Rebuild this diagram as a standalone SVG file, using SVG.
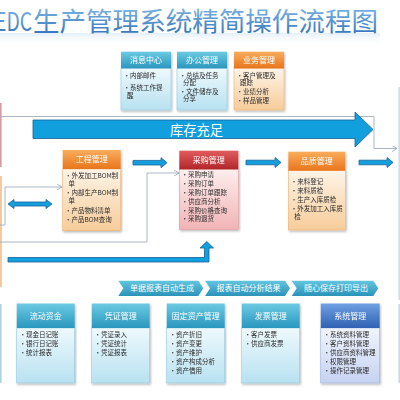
<svg xmlns="http://www.w3.org/2000/svg" width="400" height="400" viewBox="0 0 400 400">
<defs>
<linearGradient id="gTitle" x1="0" y1="0" x2="0" y2="1"><stop offset="0" stop-color="#8cc2ee"/><stop offset="1" stop-color="#2b6db5"/></linearGradient>
<linearGradient id="gTealH" x1="0" y1="0" x2="0" y2="1"><stop offset="0" stop-color="#6ccae3"/><stop offset="1" stop-color="#2a97be"/></linearGradient>
<linearGradient id="gTealB" x1="0" y1="0" x2="0" y2="1"><stop offset="0" stop-color="#eef9fd"/><stop offset="1" stop-color="#b8e1f1"/></linearGradient>
<linearGradient id="gOrH" x1="0" y1="0" x2="0" y2="1"><stop offset="0" stop-color="#f9ad5c"/><stop offset="1" stop-color="#e8751c"/></linearGradient>
<linearGradient id="gOrB" x1="0" y1="0" x2="0" y2="1"><stop offset="0" stop-color="#fef4e6"/><stop offset="1" stop-color="#f7cc9a"/></linearGradient>
<linearGradient id="gRedH" x1="0" y1="0" x2="0" y2="1"><stop offset="0" stop-color="#e15c5e"/><stop offset="1" stop-color="#b1262a"/></linearGradient>
<linearGradient id="gRedB" x1="0" y1="0" x2="0" y2="1"><stop offset="0" stop-color="#fdeeee"/><stop offset="1" stop-color="#f2b4b6"/></linearGradient>
<linearGradient id="gSysH" x1="0" y1="0" x2="0" y2="1"><stop offset="0" stop-color="#6fa0e2"/><stop offset="1" stop-color="#2f61b2"/></linearGradient>
<linearGradient id="gSysB" x1="0" y1="0" x2="0" y2="1"><stop offset="0" stop-color="#f0f4fd"/><stop offset="1" stop-color="#c5d2f1"/></linearGradient>
<linearGradient id="gTag" x1="0" y1="0" x2="0" y2="1"><stop offset="0" stop-color="#62c6e0"/><stop offset="1" stop-color="#2a93b9"/></linearGradient>
<linearGradient id="gGlow" x1="0" y1="0" x2="0" y2="1"><stop offset="0" stop-color="#dcebf8" stop-opacity="0.8"/><stop offset="1" stop-color="#ffffff" stop-opacity="0"/></linearGradient>
<filter id="sh" x="-10%" y="-10%" width="130%" height="130%"><feDropShadow dx="1" dy="1.5" stdDeviation="1" flood-color="#000" flood-opacity="0.28"/></filter>
<marker id="ah" markerWidth="6" markerHeight="6" refX="5" refY="3" orient="auto" markerUnits="userSpaceOnUse"><path d="M0,0 L5,3 L0,6" fill="none" stroke="#9aa4b8" stroke-width="0.8"/></marker>
</defs>
<style>
text{font-family:"Noto Sans CJK SC","Noto Sans",sans-serif}
.hd{font-size:8px;fill:#fff;text-anchor:middle}
.it{font-size:6.5px;fill:#2a2a2a}
.tg{font-size:8px;fill:#fff;text-anchor:middle}
.conn{fill:none;stroke:#a3acc0;stroke-width:0.9}
.blue{fill:#129fde;stroke:#1a5f96;stroke-width:0.8}
.bT{fill:url(#gTealB);stroke:#93c9dc;stroke-width:0.6}
.bO{fill:url(#gOrB);stroke:#efb27a;stroke-width:0.6}
.bR{fill:url(#gRedB);stroke:#e29a9c;stroke-width:0.6}
.bS{fill:url(#gSysB);stroke:#9fb3e0;stroke-width:0.6}
</style>
<rect width="400" height="400" fill="#fff"/>

<!-- title -->
<g id="title">
<rect x="0" y="33" width="380" height="12" fill="url(#gGlow)"/>
<text x="-5" y="31" font-family="Liberation Serif,serif" font-size="26" textLength="37" lengthAdjust="spacingAndGlyphs" fill="url(#gTitle)">EDC</text>
<text x="33" y="31" font-size="26" textLength="345" lengthAdjust="spacingAndGlyphs" fill="url(#gTitle)">生产管理系统精简操作流程图</text>
</g>

<!-- edge slivers of cut-off boxes -->
<g id="edges">
<rect x="0" y="103" width="1.6" height="64" fill="#d49aa2"/>
<rect x="0" y="176" width="2" height="111" fill="#f5c99c"/>
<rect x="0" y="304" width="1.6" height="79" fill="#a9d3e3"/>
<rect x="398.4" y="87" width="1.6" height="213" fill="#d3dae8"/>
<rect x="398.4" y="304" width="1.6" height="79" fill="#c9d8ec"/>
</g>

<!-- connectors -->
<g id="connectors">
<polyline class="conn" points="0,116.5 374,116.5 374,148.5 397,148.5" marker-end="url(#ah)"/>
<polyline class="conn" points="0,225 5,225 5,187 62,187" marker-end="url(#ah)"/>
<polyline class="conn" points="0,242 147,242 147,173 179,173" marker-end="url(#ah)"/>
<polygon class="blue" points="33,120 355,120 355,112 373,129.5 355,147 355,138.5 33,138.5"/>
<text x="196.5" y="134.8" font-size="13.3" fill="#fff" text-anchor="middle">库存充足</text>
<polygon class="blue" points="133,160.4 161,160.4 161,157.7 167,162.7 161,167.7 161,165 133,165"/>
<polygon class="blue" points="246,160.2 275,160.2 275,157.5 281,162.5 275,167.5 275,164.8 246,164.8"/>
<polygon class="blue" points="359,160.2 387,160.2 387,157.5 393,162.5 387,167.5 387,164.8 359,164.8"/>
<polygon class="blue" points="8,204 14,199.5 14,202 46,202 46,199.5 52,204 46,208.5 46,206 14,206 14,208.5"/>
<polygon class="blue" points="8,257.5 204.5,257.5 204.5,248 200,248 206.75,241.5 213.5,248 209,248 209,262 8,262"/>
</g>

<!-- top row -->
<g id="n-xiaoxi" filter="url(#sh)">
<rect x="121" y="68.3" width="50" height="41.7" class="bT"/>
<rect x="121" y="51.7" width="50" height="16.6" fill="url(#gTealH)"/>
<text class="hd" x="146" y="62.8">消息中心</text>
<text class="it" x="123.5" y="77.8">•内部邮件</text>
<text class="it" x="123.5" y="90">•系统工作提<tspan x="127" y="97.8">醒</tspan></text>
</g>
<g id="n-bangong" filter="url(#sh)">
<rect x="177" y="68.3" width="50" height="41.7" class="bT"/>
<rect x="177" y="51.7" width="50" height="16.6" fill="url(#gTealH)"/>
<text class="hd" x="202" y="62.8">办公管理</text>
<text class="it" x="179.5" y="77.5">•总结及任务<tspan x="183" y="85.3">分配</tspan></text>
<text class="it" x="179.5" y="93.6">•文件储存及<tspan x="183" y="101.4">分享</tspan></text>
</g>
<g id="n-yewu" filter="url(#sh)">
<rect x="234" y="68.3" width="50" height="41.7" class="bO"/>
<rect x="234" y="51.7" width="50" height="16.6" fill="url(#gOrH)"/>
<text class="hd" x="259" y="62.8">业务管理</text>
<text class="it" x="236.5" y="77.5">•客户管理及<tspan x="240" y="85.3">跟踪</tspan></text>
<text class="it" x="236.5" y="94.2">•业绩分析<tspan x="236.5" y="102.8">•样品管理</tspan></text>
</g>

<!-- middle row -->
<g id="n-gongcheng" filter="url(#sh)">
<rect x="62.7" y="169" width="58" height="61.7" class="bO"/>
<rect x="62.7" y="150" width="58" height="19" fill="url(#gOrH)"/>
<text class="hd" x="91.7" y="161.8">工程管理</text>
<text class="it" x="65" y="178">•外发加工BOM制<tspan x="68.5" y="185.8">单</tspan></text>
<text class="it" x="65" y="195.2">•内部生产BOM制<tspan x="68.5" y="203">单</tspan></text>
<text class="it" x="65" y="212.8">•产品物料清单<tspan x="65" y="222">•产品BOM查询</tspan></text>
</g>
<g id="n-caigou" filter="url(#sh)">
<rect x="179.3" y="169.3" width="59" height="60" class="bR"/>
<rect x="179.3" y="150.7" width="59" height="18.6" fill="url(#gRedH)"/>
<text class="hd" x="208.8" y="162.8">采购管理</text>
<text class="it" x="181.5" y="177.3">•采购申请<tspan x="181.5" y="186.1">•采购订单</tspan><tspan x="181.5" y="194.9">•采购订单跟踪</tspan><tspan x="181.5" y="203.7">•供应商分析</tspan><tspan x="181.5" y="212.5">•采购价格查询</tspan><tspan x="181.5" y="221.3">•采购退货</tspan></text>
</g>
<g id="n-pinzhi" filter="url(#sh)">
<rect x="288.3" y="170.7" width="57" height="59.3" class="bO"/>
<rect x="288.3" y="151.7" width="57" height="19" fill="url(#gOrH)"/>
<text class="hd" x="316.8" y="163.8">品质管理</text>
<text class="it" x="290.8" y="184.4">•来料登记<tspan x="290.8" y="193.2">•来料质检</tspan><tspan x="290.8" y="202">•生产入库质检</tspan><tspan x="290.8" y="210.9">•外发加工入库质</tspan><tspan x="294.3" y="218.7">检</tspan></text>
</g>

<!-- tags -->
<g id="n-tag1"><polygon points="118.3,280.7 198.3,280.7 203.3,288.35 198.3,296 118.3,296 123.3,288.35" fill="url(#gTag)"/><text class="tg" x="162" y="291.2">单据报表自动生成</text></g>
<g id="n-tag2"><polygon points="205,280.7 285,280.7 290,288.35 285,296 205,296 210,288.35" fill="url(#gTag)"/><text class="tg" x="248.5" y="291.2">报表自动分析结果</text></g>
<g id="n-tag3"><polygon points="291.7,280.7 373.3,280.7 378.3,288.35 373.3,296 291.7,296 296.7,288.35" fill="url(#gTag)"/><text class="tg" x="336" y="291.2">随心保存打印导出</text></g>

<!-- bottom row -->
<g id="n-liudong" filter="url(#sh)">
<rect x="16.7" y="328" width="58" height="55" class="bT"/>
<rect x="16.7" y="303.5" width="58" height="24.5" fill="url(#gTealH)"/>
<text class="hd" x="45.7" y="318.5">流动资金</text>
<text class="it" x="19.5" y="336.6">•现金日记账<tspan x="19.5" y="345.6">•银行日记账</tspan><tspan x="19.5" y="354.6">•统计报表</tspan></text>
</g>
<g id="n-pingzheng" filter="url(#sh)">
<rect x="91.7" y="328" width="58" height="55" class="bT"/>
<rect x="91.7" y="303.5" width="58" height="24.5" fill="url(#gTealH)"/>
<text class="hd" x="120.7" y="318.5">凭证管理</text>
<text class="it" x="94.5" y="336.6">•凭证录入<tspan x="94.5" y="345.6">•凭证统计</tspan><tspan x="94.5" y="354.6">•凭证报表</tspan></text>
</g>
<g id="n-guding" filter="url(#sh)">
<rect x="166.7" y="328" width="58" height="55" class="bT"/>
<rect x="166.7" y="303.5" width="58" height="24.5" fill="url(#gTealH)"/>
<text class="hd" x="195.7" y="318.5">固定资产管理</text>
<text class="it" x="169.5" y="336.6">•资产折旧<tspan x="169.5" y="345.6">•资产变更</tspan><tspan x="169.5" y="354.6">•资产维护</tspan><tspan x="169.5" y="363.6">•资产构成分析</tspan><tspan x="169.5" y="372.6">•资产借用</tspan></text>
</g>
<g id="n-fapiao" filter="url(#sh)">
<rect x="241.7" y="328" width="58" height="55" class="bT"/>
<rect x="241.7" y="303.5" width="58" height="24.5" fill="url(#gTealH)"/>
<text class="hd" x="270.7" y="318.5">发票管理</text>
<text class="it" x="244.5" y="336.6">•客户发票<tspan x="244.5" y="345.6">•供应商发票</tspan></text>
</g>
<g id="n-xitong" filter="url(#sh)">
<rect x="320.7" y="328" width="59" height="55" class="bS"/>
<rect x="320.7" y="303.5" width="59" height="24.5" fill="url(#gSysH)"/>
<text class="hd" x="350.2" y="318.5">系统管理</text>
<text class="it" x="323.5" y="336.6">•系统资料管理<tspan x="323.5" y="345.6">•客户资料管理</tspan><tspan x="323.5" y="354.6">•供应商资料管理</tspan><tspan x="323.5" y="363.6">•权限管理</tspan><tspan x="323.5" y="372.6">•操作记录管理</tspan></text>
</g>
</svg>
